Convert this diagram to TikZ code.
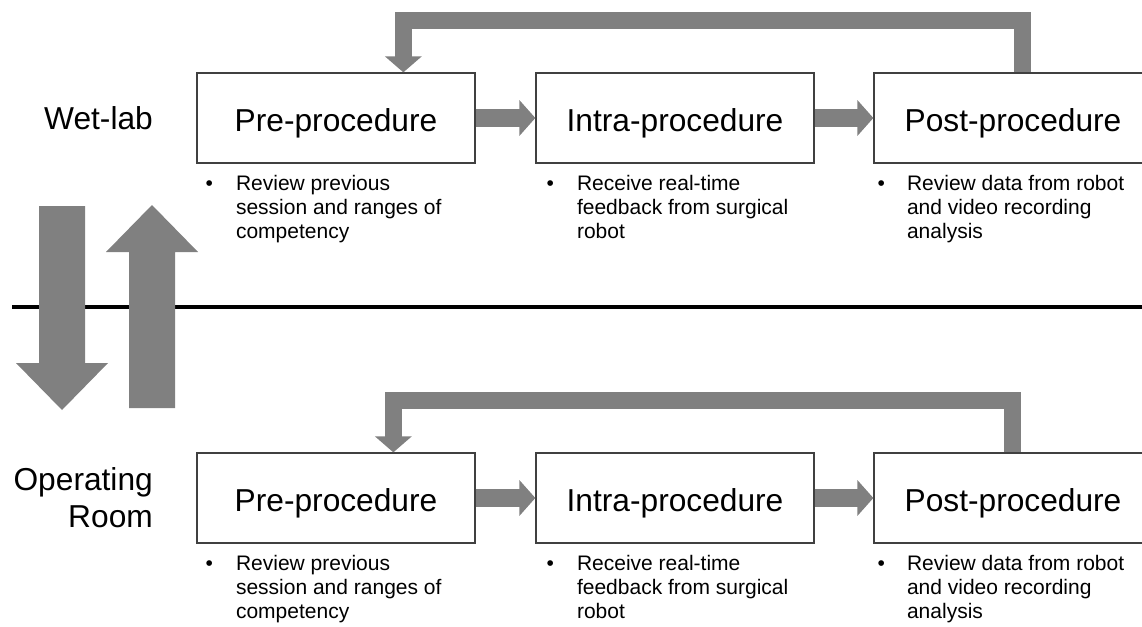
\documentclass[tikz,border=0pt]{standalone}
\usepackage{fontspec}
\setmainfont{Liberation Sans}
\usetikzlibrary{arrows.meta,calc}
\definecolor{arrowgray}{RGB}{128,128,128}
\definecolor{boxgray}{RGB}{64,64,64}
\tikzset{
  box/.style={draw=boxgray, line width=1.3pt, minimum width=278pt, minimum height=90pt,
    inner sep=0pt, text height=26pt, text depth=0pt, font=\fontsize{31.7}{36}\selectfont},
  conn/.style={arrowgray, line width=18pt, -{Triangle[length=16pt,width=35pt]}},
  fb/.style={arrowgray, line width=17pt, line join=miter, -{Triangle[length=16pt,width=36pt]}},
  bul/.style={anchor=base, inner sep=0pt, font=\fontsize{21}{24}\selectfont},
  note/.style={anchor=north west, inner sep=0pt, align=left, font=\fontsize{21}{24}\selectfont},
  side/.style={inner sep=0pt, align=right, font=\fontsize{31.7}{37}\selectfont},
  big/.style={fill=arrowgray}
}
\begin{document}
\begin{tikzpicture}[x=1pt,y=-1pt]
\useasboundingbox (0,0) rectangle (1142,626);
\clip (0,0) rectangle (1142,626);
\fill[white] (0,0) rectangle (1142,626);

% separator line
\draw[line width=3.5pt] (12,307) -- (1142,307);

% big arrows
\fill[big] (39,206) -- (85,206) -- (85,363) -- (108,363) -- (62,410) -- (16,363) -- (39,363) -- cycle;
\fill[big] (129,408) -- (175,408) -- (175,252) -- (198,252) -- (152,205) -- (106,252) -- (129,252) -- cycle;

% side labels
\node[side, anchor=base east] (wet) at (153,129) {Wet-lab};
\node[side, anchor=north east] (orroom) at (153,464.1) {\strut Operating\\Room};

% boxes
\foreach \r/\y in {1/118, 2/498} {
  \node[box] (pre\r) at (336,\y) {Pre-procedure};
  \node[box] (intra\r) at (675,\y) {Intra-procedure};
  \node[box] (post\r) at (1013,\y) {Post-procedure};
  \draw[conn] (pre\r.east) -- (intra\r.west);
  \draw[conn] (intra\r.east) -- (post\r.west);
  \node[bul] (bpre\r) at ($(pre\r.south west)+(13,27)$) {•};
  \node[note] (npre\r) at ($(pre\r.south west)+(39.5,10.2)$) {\strut Review previous\\session and ranges of\\competency};
  \node[bul] (bintra\r) at ($(intra\r.south west)+(15,27)$) {•};
  \node[note] (nintra\r) at ($(intra\r.south west)+(41.5,10.2)$) {\strut Receive real-time\\feedback from surgical\\robot};
  \node[bul] (bpost\r) at ($(post\r.south west)+(8,27)$) {•};
  \node[note] (npost\r) at ($(post\r.south west)+(33.5,10.2)$) {\strut Review data from robot\\and video recording\\analysis};
}

% feedback arrows
\coordinate (fbtop1) at (0,20.5);
\coordinate (s1) at ($(post1.north west)+(149,0)$);
\coordinate (e1) at ($(pre1.north west)+(207,0)$);
\draw[fb] (s1) -- (s1 |- fbtop1) -- (e1 |- fbtop1) -- (e1);

\coordinate (fbtop2) at (0,400.5);
\coordinate (s2) at ($(post2.north west)+(139.5,0)$);
\coordinate (e2) at ($(pre2.north west)+(197,0)$);
\draw[fb] (s2) -- (s2 |- fbtop2) -- (e2 |- fbtop2) -- (e2);
\end{tikzpicture}
\end{document}
